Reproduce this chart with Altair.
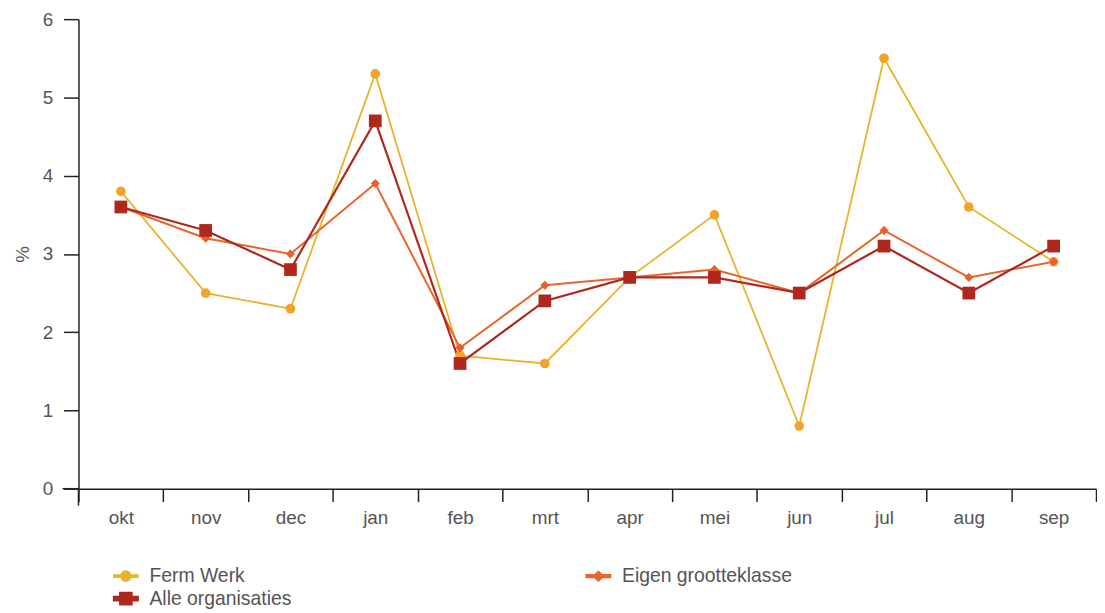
import altair as alt
import pandas as pd

months = ["okt", "nov", "dec", "jan", "feb", "mrt", "apr", "mei", "jun", "jul", "aug", "sep"]
series = ["Ferm Werk", "Eigen grootteklasse", "Alle organisaties"]
ferm_werk = [3.8, 2.5, 2.3, 5.3, 1.7, 1.6, 2.7, 3.5, 0.8, 5.5, 3.6, 2.9]
eigen = [3.6, 3.2, 3.0, 3.9, 1.8, 2.6, 2.7, 2.8, 2.5, 3.3, 2.7, 2.9]
alle = [3.6, 3.3, 2.8, 4.7, 1.6, 2.4, 2.7, 2.7, 2.5, 3.1, 2.5, 3.1]
line_colors = ["#E8B42E", "#E8652C", "#B0281D"]
marker_colors = ["#F2A42A", "#E8602A", "#B0281D"]
shapes = ["circle", "diamond", "square"]
sizes = [95, 85, 165]
widths = [1.8, 2.2, 3.2]

rows = []
for name, vals in zip(series, [ferm_werk, eigen, alle]):
    for m, v in zip(months, vals):
        rows.append({"maand": m, "reeks": name, "waarde": v})
df = pd.DataFrame(rows)

FONT = "Liberation Sans"
GREY = "#555555"
AX = "#222222"
H = 473

# legend symbols: a short line (thin filled bar) with the series marker on it
circle = "M1,0A1,1 0 1,1 -1,0A1,1 0 1,1 1,0Z"
square = "M-1.15,-1.15H1.15V1.15H-1.15Z"
diamond = "M0,-0.9L1,0L0,0.9L-1,0Z"
bar_thin = "M-2.4,-0.2H2.4V0.2H-2.4Z"
bar_mid = "M-2.4,-0.24H2.4V0.24H-2.4Z"
bar_thick = "M-2.4,-0.34H2.4V0.34H-2.4Z"
shape_expr = (
    f"datum.value === 'Ferm Werk' ? '{bar_thin}{circle}' : "
    f"datum.value === 'Alle organisaties' ? '{bar_thick}{square}' : '{bar_mid}{diamond}'"
)

x_enc = alt.X(
    "maand:N",
    sort=months,
    bandPosition=0.5,
    scale=alt.Scale(type="band", paddingInner=0, paddingOuter=0),
    axis=alt.Axis(
        title=None, labelAngle=0, tickBand="extent", tickSize=13, tickWidth=1.5,
        tickColor=AX, domainColor=AX, domainWidth=1.5,
        labelFontSize=19, labelColor=GREY, labelFont=FONT, labelPadding=7,
    ),
)
y_enc = alt.Y(
    "waarde:Q",
    scale=alt.Scale(domain=[0, 6], nice=False),
    axis=alt.Axis(
        values=[0, 1, 2, 3, 4, 5, 6], grid=False, tickSize=15, tickWidth=1.5,
        tickColor=AX, domainColor=AX, domainWidth=1.5,
        labelFontSize=19, labelColor=GREY, labelFont=FONT, labelPadding=11,
        title="%", titleFontSize=19, titleFont=FONT, titleFontWeight="normal",
        titleColor=GREY, titlePadding=10,
    ),
)
color_enc = alt.Color(
    "reeks:N",
    sort=series,
    scale=alt.Scale(domain=series, range=line_colors),
    legend=alt.Legend(
        title=None, orient="none", legendX=38, legendY=551, columns=2,
        direction="horizontal", labelLimit=400,
        columnPadding=292, rowPadding=2, labelFontSize=19.5, labelColor=GREY,
        labelFont=FONT, symbolSize=100, labelOffset=14,
        symbolType=alt.ExprRef(expr=shape_expr),
        symbolStrokeWidth=0,
        symbolFillColor=alt.ExprRef(expr="scale('color', datum.value)"),
        symbolOpacity=1,
    ),
)

lines = alt.Chart(df).mark_line().encode(
    x=x_enc, y=y_enc, color=color_enc,
    strokeWidth=alt.StrokeWidth("reeks:N", scale=alt.Scale(domain=series, range=widths), legend=None),
)

point_layers = []
for name, col, shp, sz in zip(series, marker_colors, shapes, sizes):
    point_layers.append(
        alt.Chart(df).transform_filter(alt.datum.reeks == name)
        .mark_point(filled=True, opacity=1, shape=shp, size=sz, color=col)
        .encode(x=x_enc, y=y_enc)
    )

# axis-crossing extensions (decoration of the axes, as in the original)
cross_y = alt.Chart().mark_rule(color=AX, strokeWidth=1.5).encode(
    x=alt.value(0), y=alt.value(H), y2=alt.value(H + 17)
)
cross_x = alt.Chart().mark_rule(color=AX, strokeWidth=1.5).encode(
    x=alt.value(-16), x2=alt.value(0), y=alt.value(H)
)

chart = alt.layer(lines, *point_layers, cross_y, cross_x).properties(
    width=1025, height=H, background="white",
    padding={"left": 5, "top": 0, "right": 0, "bottom": 5},
).configure_view(stroke=None)

chart.save("out.html", embed_options={"renderer": "svg", "actions": False})
